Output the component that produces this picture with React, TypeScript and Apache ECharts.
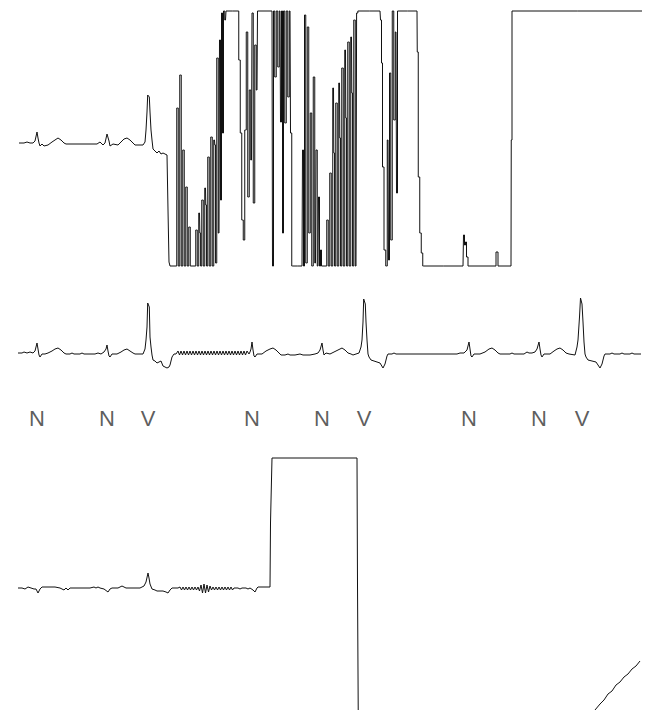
import React, { useEffect, useRef } from "react";
import * as echarts from "echarts";

// ---- Trace 1 (top lead): sample time (x) and amplitude (units) ----
const trace1Ecg: number[][] = [
  [19, 0], [24, 0], [27, 1], [30, 0], [33, 0], [35, 2], [37, 11], [38, 5], [39, 0], [40, -3], [42, -1], [44, -3],
  [48, -2], [52, 1], [55, 3], [58, 5], [61, 3], [64, 0], [66, -1], [97, -1], [100, 1], [103, -2], [105, 0],
  [107, 9], [109, 2], [110, -3], [113, -1], [118, -2], [121, 1], [124, 4], [127, 5], [130, 3], [133, 0],
  [135, -2], [143, -2], [145, 1], [146, 13], [147, 31], [147.7, 48], [149.3, 46], [150, 31], [151, 13],
  [152, 3], [153, -6], [155, -8], [157, -10], [159, -8], [161, -11], [163, -10], [165, -11], [167, -12],
  [168, -67], [169, -119], [170, -123], [176, -123],
];

const trace1Saturated: number[][] = [
  [176, -123], [177.5, 35], [179, -123], [180.5, 68], [182, -123], [183.5, -7], [185, -123], [186.5, -44],
  [188, -123], [189.5, -84], [191, -123], [195, -123], [196.5, -87], [198, -123], [199.5, -70], [200.2, -90],
  [201, -123], [202.5, -57], [204, -123], [205.5, -45], [206.1, -62], [207, -123], [208.5, -14], [210, -123],
  [211.5, 6], [213, -123], [214.5, 3], [215.1, -2], [216, -120], [217.5, 85], [219, -90], [220, 103],
  [221, -57], [222, 130], [223, 10], [224, 132],
  [225.5, 123], [226.5, 132], [238, 132], [239.5, 83], [241, 10], [242.5, -77], [244, -97], [245.5, 13],
  [247, 111], [248.5, -54], [250, 53], [251.5, -17], [252.5, 130], [254, -60], [255.5, 98], [257, 53],
  [258, 132], [272, 132], [273, -123], [274, 132], [275.5, 66], [277, 132], [278.5, 76], [280, 132],
  [281, 21], [282, 132], [283, -90], [284, 132], [285.5, 20], [287, 132], [288.5, 46], [290, 132], [291, 10],
  [292.5, -123], [302, -123], [303, -7], [304, -123], [305, 128], [306.5, -120], [308, 116], [309.5, -90],
  [311, 30], [312.5, -123], [314, 66], [315.5, -120], [316.5, -7], [318, -123], [319, -54], [320, -123],
  [321, -107], [322, -123], [326, -123], [327.5, -77], [329, -123], [330.5, -30], [332, -123], [333.5, 55],
  [334.1, -10], [335, -123], [336.5, 40], [338, -123], [339.5, 60], [340.1, 5], [341, -123], [342.5, 75],
  [344, -123], [345.5, 93], [346.1, 25], [347, -123], [348.5, 101], [350, -123], [351.5, 106], [352.1, 50],
  [353, -123], [354.5, 123], [356, -123], [357.2, 130], [358.5, 132],
  [380, 132], [381, 123], [382, 80], [383, -24], [385, -107], [386.5, -123], [388, 3], [389, -117], [390, 70],
  [391.5, -97], [393, 132], [394.5, 23], [396, 111], [397, -50], [398, 132], [417, 132],
  [417.5, 91], [419, -34], [420.5, -90], [422, -110], [423.5, -123], [463, -123], [464, -92], [465, -102],
  [466, -99], [467, -114], [469, -123], [495, -123], [497, -109], [499, -123], [511, -123], [511.5, 3],
  [512.5, 132], [642, 132],
];

// ---- Trace 2 (middle lead) ----
const trace2Before: number[][] = [
  [18, -1], [22, -1], [24, 0], [27, -1], [30, 0], [33, -1], [35, 1], [37, 9], [38, 3], [39, -3], [40, -5],
  [42, -2], [45, -2], [48, -1], [52, 1], [55, 3], [58, 4], [61, 2], [64, -1], [66, -2], [70, -2], [72, -1],
  [74, -2], [80, -2], [82, -1], [84, -2], [95, -2], [98, -1], [101, -2], [104, 0], [106, 3], [107, 7],
  [108, 1], [109, -4], [110, -5], [112, -2], [117, -2], [121, 0], [124, 2], [127, 3], [130, 1], [133, -1],
  [135, -2], [143, -2], [145, 3], [146, 12], [147, 25], [147.7, 49], [149.3, 45], [150, 15], [151, 5],
  [152, -3], [153, -8], [155, -9], [157, -11], [159, -10], [161, -9], [163, -14], [165, -15], [167, -16],
  [169, -15], [170, -13], [172, -5], [174, -2], [176, -2],
];
const trace2RippleStart = 178;
const rippleStep = 1.5;
const trace2Ripple: number[] = [
  1, -3, 1, -3, 1, -3, 1, -3, 1, -3, 1, -3, 1, -3, 1, -3, 1, -3, 1, -3, 1, -3, 1, -3,
  1, -3, 1, -3, 1, -3, 1, -3, 1, -3, 1, -3, 1, -3, 1, -3, 1, -3, 1, -3, 1, -3, 1,
];
const trace2After: number[][] = [
  [249, -2], [250, 0], [251, 3], [252, 10], [253, 2], [254, -4], [255, -5], [257, -2], [262, -2], [266, 1],
  [270, 3], [273, 4], [276, 2], [279, -1], [281, -3], [285, -3], [288, -2], [290, -3], [295, -3], [300, -2],
  [303, -3], [310, -3], [315, -2], [318, -1], [320, 2], [322, 9], [323, 2], [324, -3], [326, -1], [330, -2],
  [334, 0], [338, 2], [342, 4], [345, 2], [348, -1], [351, -2], [353, -3], [356, -2], [359, -1], [361, 5],
  [362, 12], [363, 30], [363.7, 53], [365.3, 48], [366, 30], [367, 12], [368, -2], [369, -5], [371, -8],
  [374, -9], [377, -10], [380, -11], [383, -16], [385, -12], [387, -4], [388, -2], [392, -2], [394, -1],
  [396, -2], [457, -2], [460, -1], [464, -1], [467, 2], [469, 10], [470, 3], [471, -4], [472, -5], [474, -2],
  [480, -2], [485, 0], [489, 3], [492, 4], [495, 2], [498, -1], [500, -2], [510, -2], [512, -1], [514, -2],
  [524, -2], [527, 0], [529, -1], [532, -1], [535, 0], [537, 3], [539, 10], [540, 3], [541, -3], [542, -5],
  [544, -2], [550, -2], [554, 1], [557, 3], [560, 4], [563, 2], [566, -1], [569, -2], [575, -3], [577, 5],
  [578, 12], [579.5, 35], [580.5, 54], [582, 48], [583, 30], [584, 10], [585, -2], [586, -5], [588, -8],
  [592, -9], [596, -10], [600, -16], [602, -12], [604, -4], [605, -2], [610, -2], [612, -1], [614, -2],
  [620, -2], [622, -1], [624, -2], [630, -2], [632, -1], [634, -2], [641, -2],
];

// ---- Trace 3 (bottom lead) ----
const trace3Before: number[][] = [
  [18, 0], [22, 0], [25, -1], [28, 1], [31, 0], [34, -1], [36, -1], [38, -5], [40, -1], [42, 1], [45, 1],
  [55, 1], [60, 0], [62, -1], [64, -2], [66, 0], [68, -2], [70, 0], [90, 0], [94, 1], [96, 0], [98, 1],
  [100, 0], [104, -1], [108, -4], [110, -1], [112, 0], [118, 0], [120, 1], [122, 2], [124, 1], [126, 0],
  [140, 0], [144, 2], [146, 6], [148, 15], [149, 10], [150, 4], [152, -1], [155, -2], [157, -3], [160, -3],
  [163, -3], [166, -4], [168, -5], [170, -2], [172, 0], [178, 0],
];
const trace3RippleStart = 180;
const trace3Ripple: number[] = [
  1, -2, 1, -2, 1, -2, 1, -2, 1, -2, 1, -2, 1, -3, 3, -5, 4, -5, 3, -4, 2, -2, 1, -2, 1, -2, 1, -2,
  1, -2, 1, -2, 1, -2, 1, -2,
];
const trace3After: number[][] = [
  [234, 0], [238, 0], [240, -1], [242, 0], [246, 0], [248, -1], [250, 0], [253, -2], [255, -4], [257, 0],
  [258, 1], [270, 1], [270.5, 65], [272, 130], [357, 130], [357.5, 3], [358.5, -170], [570, -170],
  [595, -122], [600, -116], [604, -112], [608, -106], [612, -103], [616, -97], [620, -94], [624, -89],
  [628, -86], [632, -81], [636, -78], [640, -73],
];

// ---- Beat annotations ----
const beatTimes: number[] = [37, 107, 148, 252, 322, 364, 469, 539, 582];
const beatLabels: string[] = ["N", "N", "V", "N", "N", "V", "N", "N", "V"];

function buildRipple(start: number, values: number[]): number[][] {
  return values.map((v, i) => [start + i * rippleStep, v]);
}

export default function App() {
  const ref = useRef<HTMLDivElement>(null);
  useEffect(() => {
    document.body.style.margin = "0";
    if (!ref.current) return;
    const chart = echarts.init(ref.current, undefined, { renderer: "svg" });
    const trace2 = [...trace2Before, ...buildRipple(trace2RippleStart, trace2Ripple), ...trace2After];
    const trace3 = [...trace3Before, ...buildRipple(trace3RippleStart, trace3Ripple), ...trace3After];
    const lineStyle = { color: "#111", width: 1, join: "bevel" as const };
    const xAxis = [0, 1, 2, 3].map((i) => ({
      type: "value" as const,
      gridIndex: i,
      min: 0,
      max: 653,
      show: false,
    }));
    chart.setOption({
      animation: false,
      backgroundColor: "#fff",
      grid: [
        { left: 0, width: 653, top: 5, height: 267 },
        { left: 0, width: 653, top: 290, height: 100 },
        { left: 0, width: 653, top: 450, height: 260 },
        { left: 0, width: 653, top: 398, height: 40 },
      ],
      xAxis,
      yAxis: [
        { type: "value", gridIndex: 0, min: -129, max: 138, show: false },
        { type: "value", gridIndex: 1, min: -38, max: 62, show: false },
        { type: "value", gridIndex: 2, min: -122, max: 138, show: false },
        { type: "value", gridIndex: 3, min: 0, max: 1, show: false },
      ],
      series: [
        {
          type: "line", xAxisIndex: 0, yAxisIndex: 0, data: trace1Ecg, showSymbol: false,
          lineStyle, silent: true, clip: true,
        },
        {
          type: "line", xAxisIndex: 0, yAxisIndex: 0, data: trace1Saturated, showSymbol: false,
          step: "middle", lineStyle, silent: true, clip: true,
        },
        {
          type: "line", xAxisIndex: 1, yAxisIndex: 1, data: trace2, showSymbol: false,
          lineStyle, silent: true, clip: true,
        },
        {
          type: "line", xAxisIndex: 2, yAxisIndex: 2, data: trace3, showSymbol: false,
          lineStyle, silent: true, clip: true,
        },
        {
          type: "scatter", xAxisIndex: 3, yAxisIndex: 3, silent: true,
          data: beatTimes.map((t, i) => ({ value: [t, 0.5], name: beatLabels[i] })),
          symbolSize: 2,
          itemStyle: { color: "rgba(0,0,0,0)" },
          label: {
            show: true,
            position: "inside",
            formatter: (p: any) => p.name,
            fontFamily: "Liberation Sans",
            fontSize: 22,
            color: "#333",
          },
        },
      ],
    });
    return () => chart.dispose();
  }, []);
  return <div ref={ref} style={{ width: 653, height: 710 }} />;
}
